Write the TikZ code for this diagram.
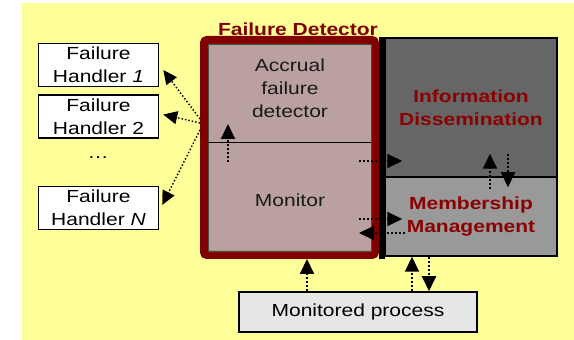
\documentclass[tikz,border=0pt]{standalone}
\usepackage{fontspec}
\setmainfont{Liberation Sans}[FakeStretch=1.2]
\usetikzlibrary{arrows.meta,calc}

\definecolor{padyellow}{HTML}{FFFF99}
\definecolor{fdred}{HTML}{800000}
\definecolor{fdpink}{HTML}{BBA0A0}
\definecolor{darkgrey}{HTML}{666666}
\definecolor{midgrey}{HTML}{999999}
\definecolor{procgrey}{HTML}{E6E6E6}
\definecolor{textred}{HTML}{8B0000}

\tikzset{
	txt/.style={font=\fontsize{17.5}{23}\selectfont, align=center},
	handler/.style={txt, draw, line width=1.5pt, fill=white, minimum width=120pt, minimum height=43pt, inner sep=0pt},
	block/.style={txt, font=\fontsize{17.5}{23}\selectfont\bfseries, text=textred, draw, line width=1.5pt, inner sep=0pt},
	flow/.style={line width=2pt, dash pattern=on 2pt off 2pt, -{Triangle[length=15pt,width=14pt]}},
	thinflow/.style={line width=1.4pt, dash pattern=on 1.5pt off 2pt, -{Triangle[length=14pt,width=13pt]}}
}

\begin{document}
\begin{tikzpicture}[x=1pt,y=1pt]

	% page and yellow pad
	\useasboundingbox (0,0) rectangle (574,340);
	\fill[white] (0,0) rectangle (574,340);
	\fill[padyellow] (22,0) rectangle (574,337);

	% failure handlers
	\node[handler] (h1) at (98.5,275) {Failure\\Handler \textit{1}};
	\node[handler] (h2) at (98.5,223.5) {Failure\\Handler 2};
	\node[txt] (dots) at (98,182) {\dots};
	\node[handler] (hN) at (98.5,132) {Failure\\Handler \textit{N}};

	% failure detector box
	\node[draw=fdred, line width=8pt, fill=fdpink, rounded corners=3pt,
		minimum width=171pt, minimum height=215pt, inner sep=0pt] (fd) at (289.5,192.5) {};
	\draw[line width=0.8pt, black!70] ($(fd.south west)+(8,8)$) rectangle ($(fd.north east)+(-8,-8)$);
	\fill (379,81) rectangle (385,303);
	\draw[line width=1pt] (208,197) -- (371,197);
	\node[font=\fontsize{17.5}{23}\selectfont\bfseries, text=fdred] (title) at (298,311) {Failure Detector};

	\node[txt, text=black!90] (acc) at (290,252) {Accrual\\failure\\detector};
	\node[txt, text=black!90] (mon) at (290,140) {Monitor};

	% information dissemination and membership
	\node[block, fill=darkgrey, minimum width=172pt, minimum height=139pt] (info) at (471,232.5) {Information\\Dissemination};
	\node[block, fill=midgrey, minimum width=172pt, minimum height=79pt] (mem) at (471,123.5) {Membership\\Management};

	% monitored process
	\node[txt, draw, line width=1.5pt, fill=procgrey, minimum width=238pt, minimum height=40pt, inner sep=0pt] (proc) at (358,28) {Monitored process};

	% arrow ends
	\coordinate (t1) at (200,221);
	\coordinate (t2) at (200,217);
	\coordinate (tN) at (200,210);
	\coordinate (up) at (228,178);
	\coordinate (mi) at (359,179);
	\coordinate (mm) at (359,121);
	\coordinate (back) at (405,107);
	\coordinate (xa) at (307,0);
	\coordinate (xb) at (412,0);
	\coordinate (xc) at (429,0);
	\coordinate (xu) at (490,0);
	\coordinate (xd) at (508,0);

	% detector to handlers
	\draw[thinflow] (t1) -- ([shift={(4,-5)}]h1.east);
	\draw[thinflow] (t2) -- ([shift={(4,2)}]h2.east);
	\draw[thinflow] (tN) -- ([shift={(3,3)}]hN.east);

	% monitor to accrual detector
	\draw[flow] (up) -- (228,216);

	% monitor and the right blocks
	\draw[flow] (mi) -- ($(info.west |- mi)+(18,0)$);
	\draw[flow] (mm) -- ($(mem.west |- mm)+(18,0)$);
	\draw[flow] (back) -- (359,107);
	\draw[flow] ($(mem.north -| xu)+(0,-13)$) -- ($(info.south -| xu)+(0,24)$);
	\draw[flow] ($(info.south -| xd)+(0,24)$) -- ($(mem.north -| xd)+(0,-11)$);

	% monitored process links
	\draw[flow] (proc.north -| xa) -- (fd.south -| xa);
	\draw[flow] (proc.north -| xb) -- (mem.south -| xb);
	\draw[flow] (mem.south -| xc) -- (proc.north -| xc);

\end{tikzpicture}
\end{document}
